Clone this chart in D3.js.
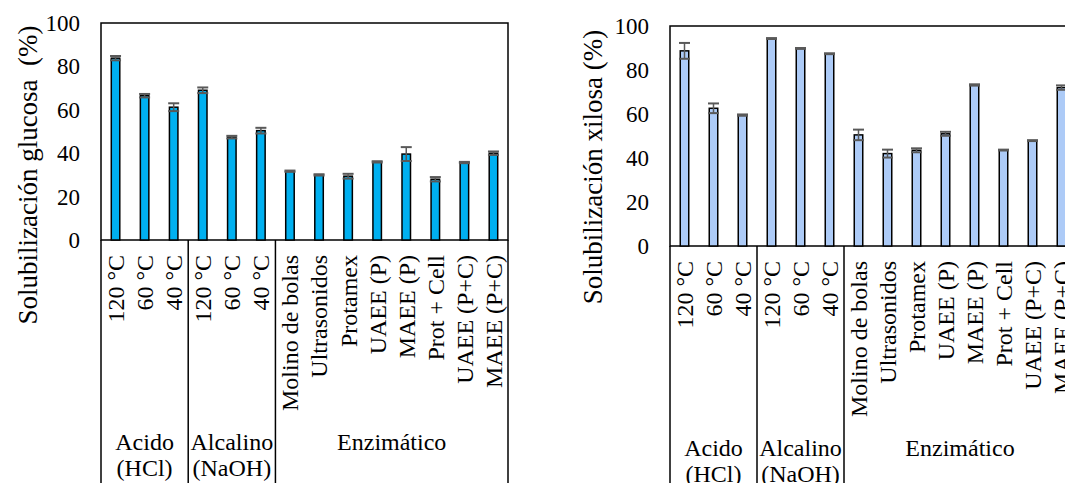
<!DOCTYPE html>
<html>
<head>
<meta charset="utf-8">
<script src="https://cdn.jsdelivr.net/npm/d3@7"></script>
<style>
  body { margin: 0; background: #fff; }
</style>
</head>
<body>
<svg id="chart" width="1065" height="483"></svg>
<script>
// categories and groups (same for both panels)
var categories = ["120 °C", "60 °C", "40 °C", "120 °C", "60 °C", "40 °C",
  "Molino de bolas", "Ultrasonidos", "Protamex", "UAEE (P)", "MAEE (P)",
  "Prot + Cell", "UAEE (P+C)", "MAEE (P+C)"];
var groupNames = [["Acido", "(HCl)"], ["Alcalino", "(NaOH)"], ["Enzimático"]];
var groupSizes = [3, 3, 8];
var yTicks = [0, 20, 40, 60, 80, 100];

// glucose solubilization (%)
var glucosa = [83.8, 66.5, 61.2, 69, 47.4, 50.4, 31.7, 30, 29.4, 36, 39.6, 28, 35.7, 40];
var glucosaErr = [1, 0.8, 1.8, 1.3, 0.6, 1.3, 0.3, 0.3, 1.1, 0.3, 3.2, 1, 0.3, 0.8];

// xylose solubilization (%)
var xilosa = [88.7, 62.6, 59.5, 94.3, 89.8, 87.4, 50.5, 42, 43.5, 51, 73.2, 43.6, 47.9, 72];
var xilosaErr = [3.6, 2.2, 0.3, 0.2, 0.2, 0.2, 2.4, 1.8, 0.9, 0.9, 0.3, 0.2, 0.2, 1];

var svg = d3.select("#chart")
var serif = "'Liberation Serif', 'Times New Roman', 'DejaVu Serif', serif"

function drawPanel(opt) {
  var g = svg.append("g").style("font-family", serif)
  var x = d3.scaleBand().domain(d3.range(categories.length))
    .range([opt.left, opt.right]).paddingInner(0).paddingOuter(0)
  var y = d3.scaleLinear().domain([0, 100]).range([opt.bottom, opt.top])

  // frame
  g.append("rect")
    .attr("x", opt.left).attr("y", opt.top)
    .attr("width", opt.right - opt.left).attr("height", opt.bottom - opt.top)
    .attr("fill", "none").attr("stroke", "#000").attr("stroke-width", 1.5)

  // y tick labels
  g.selectAll(".ytick").data(yTicks).enter().append("text")
    .attr("x", opt.left - 21).attr("y", function(d) { return y(d); })
    .attr("dy", "0.35em").attr("text-anchor", "end")
    .style("font-family", serif).style("font-size", "23px").text(function(d) { return d; })

  // y title
  g.append("text")
    .attr("transform", "translate(" + opt.titleX + "," + opt.titleY + ") rotate(-90)")
    .attr("text-anchor", "middle").style("font-family", serif).style("font-size", "27px")
    .text(opt.title)

  // bars
  var bw = 10
  g.selectAll(".bar").data(opt.values).enter().append("rect")
    .attr("x", function(d, i) { return x(i) + x.bandwidth() / 2 - bw / 2 + 0.75; })
    .attr("y", function(d) { return y(d); })
    .attr("width", bw - 1.5)
    .attr("height", function(d) { return y(0) - y(d); })
    .attr("fill", opt.color).attr("stroke", "#000").attr("stroke-width", 1.5)

  // error bars
  var eb = g.selectAll(".err").data(opt.values).enter().append("g")
  eb.append("line")
    .attr("x1", function(d, i) { return x(i) + x.bandwidth() / 2; })
    .attr("x2", function(d, i) { return x(i) + x.bandwidth() / 2; })
    .attr("y1", function(d, i) { return y(d - opt.errors[i]); })
    .attr("y2", function(d, i) { return y(d + opt.errors[i]); })
    .attr("stroke", "#595959").attr("stroke-width", 1.5)
  ;[-1, 1].forEach(function(s) {
    eb.append("line")
      .attr("x1", function(d, i) { return x(i) + x.bandwidth() / 2 - 5.5; })
      .attr("x2", function(d, i) { return x(i) + x.bandwidth() / 2 + 5.5; })
      .attr("y1", function(d, i) { return y(d + s * opt.errors[i]); })
      .attr("y2", function(d, i) { return y(d + s * opt.errors[i]); })
      .attr("stroke", "#595959").attr("stroke-width", 2)
  })

  // category labels
  g.selectAll(".cat").data(categories).enter().append("text")
    .attr("transform", function(d, i) {
      return "translate(" + (x(i) + x.bandwidth() / 2) + "," + (opt.bottom + 15) + ") rotate(-90)";
    })
    .attr("dy", "0.35em").attr("text-anchor", "end")
    .style("font-family", serif).style("font-size", "24px").text(function(d) { return d; })

  // group separators and names
  var start = 0
  var seps = [0]
  groupSizes.forEach(function(n) { start += n; seps.push(start) })
  g.selectAll(".sep").data(seps).enter().append("line")
    .attr("x1", function(d) { return d < categories.length ? x(d) : opt.right; })
    .attr("x2", function(d) { return d < categories.length ? x(d) : opt.right; })
    .attr("y1", opt.bottom).attr("y2", 483)
    .attr("stroke", "#000").attr("stroke-width", 1.5)

  groupNames.forEach(function(lines, k) {
    var x0 = seps[k] < categories.length ? x(seps[k]) : opt.right
    var x1 = seps[k + 1] < categories.length ? x(seps[k + 1]) : opt.right
    lines.forEach(function(t, j) {
      g.append("text")
        .attr("x", (x0 + x1) / 2).attr("y", opt.bottom + 202 + j * 26)
        .attr("dy", "0.35em").attr("text-anchor", "middle")
        .style("font-family", serif).style("font-size", "24px").text(t)
    })
  })
}

drawPanel({
  left: 101, right: 508, top: 23, bottom: 240,
  values: glucosa, errors: glucosaErr, color: "#00B0F0",
  title: "Solubilización glucosa\u00A0\u00A0(%)", titleX: 37, titleY: 175
})

drawPanel({
  left: 670, right: 1076, top: 26, bottom: 246,
  values: xilosa, errors: xilosaErr, color: "#ADCBF7",
  title: "Solubilización xilosa (%)", titleX: 602, titleY: 167
})
</script>
</body>
</html>
